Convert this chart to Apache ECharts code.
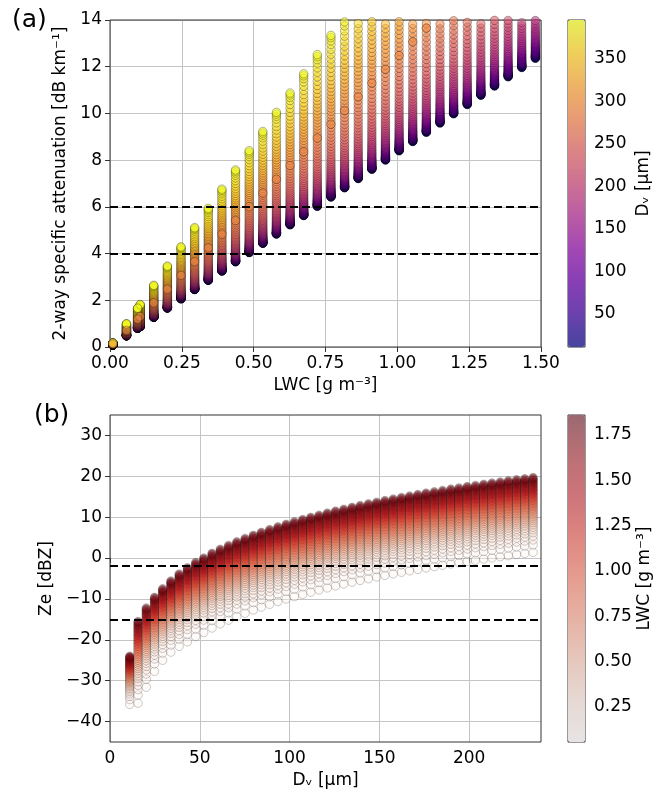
<!DOCTYPE html>
<html><head><meta charset="utf-8">
<script src="https://cdn.jsdelivr.net/npm/echarts@6/dist/echarts.min.js"></script>
<style>html,body{margin:0;padding:0;background:#fff}#main{width:657px;height:790px}</style>
</head><body><div id="main"></div>
<script>
// ---------------- data ----------------
// LWC grid [g m-3] (columns of panel a, colour levels of panel b)
const lwcLevels = [0.0100, 0.0574, 0.1049, 0.1523, 0.1997, 0.2472, 0.2946, 0.3421, 0.3895, 0.4369,
  0.4844, 0.5318, 0.5792, 0.6267, 0.6741, 0.7215, 0.7690, 0.8164, 0.8638, 0.9113,
  0.9587, 1.0062, 1.0536, 1.1010, 1.1485, 1.1959, 1.2433, 1.2908, 1.3382, 1.3856,
  1.4331, 1.4805, 1.5279, 1.5754, 1.6228, 1.6703, 1.7177, 1.7651, 1.8126, 1.8600];
// additional column seen next to 0.105 in panel (a)
const lwcExtraA = [0.096];
// lowest LWC shown in panel (b) (colour-bar minimum)
const lwcMinB = 0.0574;
// Dv grid [um]
const dvLevels = [11.0, 15.6, 20.2, 24.8, 29.3, 33.9, 38.5, 43.1, 47.7, 52.2,
  56.8, 61.4, 66.0, 70.6, 75.2, 79.8, 84.3, 88.9, 93.5, 98.1,
  102.7, 107.3, 111.8, 116.4, 121.0, 125.6, 130.2, 134.8, 139.3, 143.9,
  148.5, 153.1, 157.7, 162.3, 166.8, 171.4, 176.0, 180.6, 185.2, 189.8,
  194.3, 198.9, 203.5, 208.1, 212.7, 217.3, 221.8, 226.4, 231.0, 235.6,
  240.2, 244.8, 249.3, 253.9, 258.5, 263.1, 267.7, 272.3, 276.8, 281.4,
  286.0, 290.6, 295.2, 299.8, 304.3, 308.9, 313.5, 318.1, 322.7, 327.3,
  331.8, 336.4, 341.0, 345.6, 350.2, 354.8, 359.3, 363.9, 368.5, 373.1,
  377.7, 382.3, 386.8, 391.4, 396.0];
// 2-way specific attenuation per unit LWC [dB km-1 / (g m-3)] for each Dv level
const attenPerLwcByDv = [8.35, 8.35, 8.36, 8.37, 8.38, 8.39, 8.40, 8.40, 8.41, 8.42,
  8.43, 8.44, 8.45, 8.47, 8.48, 8.50, 8.52, 8.54, 8.56, 8.59,
  8.61, 8.64, 8.66, 8.69, 8.72, 8.75, 8.78, 8.82, 8.86, 8.90,
  8.95, 9.00, 9.05, 9.10, 9.16, 9.22, 9.29, 9.36, 9.44, 9.52,
  9.60, 9.69, 9.78, 9.88, 9.98, 10.09, 10.20, 10.32, 10.45, 10.58,
  10.72, 10.87, 11.02, 11.18, 11.34, 11.51, 11.68, 11.86, 12.04, 12.22,
  12.40, 12.58, 12.76, 12.94, 13.12, 13.30, 13.48, 13.66, 13.84, 14.03,
  14.22, 14.42, 14.62, 14.83, 15.05, 15.28, 15.52, 15.77, 16.03, 16.30,
  16.57, 16.84, 17.05, 17.22, 17.35];
// the orange marker drawn on top in each column of panel (a)
const dvMarked = 286.0;
// panel (b): Ze [dBZ] at the top (largest LWC) and bottom (smallest LWC) of each Dv column
const zeTopByDv = [-24.0, -15.5, -12.2, -9.6, -7.5, -5.6, -3.9, -2.4, -1.1, 0.0,
  1.15, 2.17, 3.10, 3.98, 4.81, 5.58, 6.29, 6.99, 7.65, 8.27,
  8.87, 9.44, 9.97, 10.50, 11.00, 11.49, 11.96, 12.41, 12.84, 13.26,
  13.67, 14.07, 14.45, 14.83, 15.19, 15.54, 15.89, 16.22, 16.55, 16.87,
  17.17, 17.48, 17.78, 18.07, 18.35, 18.63, 18.90, 19.17, 19.43, 19.69,
  19.94, 20.18];
const zeBottomByDv = [-35.8, -35.5, -31.6, -27.7, -25.0, -23.0, -21.6, -20.5, -19.2, -18.2,
  -17.1, -16.1, -15.2, -14.3, -13.5, -12.7, -12.0, -11.3, -10.65, -10.0,
  -9.43, -8.86, -8.33, -7.80, -7.30, -6.81, -6.34, -5.89, -5.46, -5.04,
  -4.63, -4.23, -3.85, -3.47, -3.11, -2.76, -2.41, -2.08, -1.75, -1.43,
  -1.13, -0.82, -0.52, -0.23, 0.05, 0.33, 0.60, 0.87, 1.13, 1.39,
  1.64, 1.88];
// dashed threshold lines
const attenThresholds = [4, 6];
const zeThresholds = [-2, -15];
// tick values
const xTicksA = [0, 0.25, 0.5, 0.75, 1.0, 1.25, 1.5];
const yTicksA = [0, 2, 4, 6, 8, 10, 12, 14];
const xTicksB = [0, 50, 100, 150, 200];
const yTicksB = [-40, -30, -20, -10, 0, 10, 20, 30];
const cbTicksA = [50, 100, 150, 200, 250, 300, 350];
const cbTicksB = [0.25, 0.5, 0.75, 1.0, 1.25, 1.5, 1.75];

// ---------------- build series data ----------------
const colsA = lwcLevels.concat(lwcExtraA);
const dataA = [];
dvLevels.forEach((dv, i) => {
  colsA.forEach(l => dataA.push([l, l * attenPerLwcByDv[i], dv]));
});
const iMark = dvLevels.indexOf(dvMarked);
const dotsA = colsA.map(l => [l, l * attenPerLwcByDv[iMark], dvMarked]);

const lwcB = lwcLevels.filter(l => l >= lwcMinB);
const lwcMaxB = Math.max.apply(null, lwcB);
const dataB = [];
zeTopByDv.forEach((top, i) => {
  const bot = zeBottomByDv[i];
  lwcB.forEach(l => {
    const fLog = Math.log(lwcMaxB / l) / Math.log(lwcMaxB / lwcMinB);
    const fLin = (lwcMaxB - l) / (lwcMaxB - lwcMinB);
    const f = 0.5 * (fLog + fLin);
    dataB.push([dvLevels[i], top - f * (top - bot), l]);
  });
});

// ---------------- styling ----------------
const FONT = 'DejaVu Sans';
const plasma = [[13,8,135],[65,4,157],[106,0,168],[143,13,164],[177,42,144],[204,71,120],
  [225,100,98],[242,132,75],[252,166,54],[252,206,37],[240,249,33]].map(c => 'rgba(' + c.join(',') + ',0.7)');
const reds = [[255,245,240],[254,224,210],[252,187,161],[252,146,114],[251,106,74],[239,59,44],
  [203,24,29],[165,15,21],[103,0,13]].map(c => 'rgba(' + c.join(',') + ',0.5)');
const minus = v => String(v).replace('-', '\u2212');

function valAxis(o) {
  const base = {
    type: 'value',
    axisLine: {show: false},
    axisTick: {show: true, length: 5, lineStyle: {color: '#333', width: 1}},
    axisLabel: {fontFamily: FONT, fontSize: 17, color: '#000', margin: 8},
    splitLine: {show: true, lineStyle: {color: '#c4c4c4', width: 1}},
    nameLocation: 'middle',
    nameTextStyle: {fontFamily: FONT, fontSize: 17, color: '#000'}
  };
  const r = Object.assign({}, base, o);
  r.axisTick = Object.assign({}, base.axisTick, o.axisTick || {});
  r.axisLabel = Object.assign({}, base.axisLabel, o.axisLabel || {});
  r.splitLine = Object.assign({}, base.splitLine, o.splitLine || {});
  return r;
}
const dash = {color: '#000', width: 2, type: [8, 4]};
const frame = (x, y, w, h) => ({type: 'rect', silent: true, z: 100,
  shape: {x: x, y: y, width: w, height: h}, style: {fill: 'none', stroke: '#333', lineWidth: 1}});

const option = {
  animation: false,
  backgroundColor: '#fff',
  title: [
    {text: '(a)', left: 12, top: 8, padding: 0, textStyle: {fontFamily: FONT, fontSize: 25, fontWeight: 'normal', color: '#000'}},
    {text: '(b)', left: 34, top: 403, padding: 0, textStyle: {fontFamily: FONT, fontSize: 25, fontWeight: 'normal', color: '#000'}}
  ],
  grid: [
    {left: 110, top: 20, width: 431, height: 327},
    {left: 110, top: 415, width: 431, height: 327},
    {left: 568, top: 20, width: 17, height: 327},
    {left: 568, top: 415, width: 17, height: 327}
  ],
  xAxis: [
    valAxis({gridIndex: 0, min: 0, max: 1.5, interval: 0.25, name: 'LWC [g m\u207B\u00B3]', nameGap: 30,
      axisLabel: {formatter: v => v.toFixed(2), customValues: xTicksA}, axisTick: {customValues: xTicksA}}),
    valAxis({gridIndex: 1, min: 0, max: 240, interval: 50, name: 'D\u1D65 [\u00B5m]', nameGap: 30,
      axisLabel: {customValues: xTicksB}, axisTick: {customValues: xTicksB}}),
    {gridIndex: 2, type: 'value', show: false, min: 0, max: 1},
    {gridIndex: 3, type: 'value', show: false, min: 0, max: 1}
  ],
  yAxis: [
    valAxis({gridIndex: 0, min: 0, max: 14, interval: 2, name: '2-way specific attenuation [dB km\u207B\u00B9]', nameGap: 38,
      axisLabel: {customValues: yTicksA}, axisTick: {customValues: yTicksA}}),
    valAxis({gridIndex: 1, min: -45, max: 35, splitNumber: 8, name: 'Ze [dBZ]', nameGap: 52,
      axisLabel: {formatter: minus, customValues: yTicksB}, axisTick: {customValues: yTicksB}}),
    valAxis({gridIndex: 2, position: 'right', min: 11, max: 396, splitNumber: 8, name: 'D\u1D65 [\u00B5m]', nameGap: 50,
      splitLine: {show: false}, axisTick: {length: 4, customValues: cbTicksA},
      axisLabel: {margin: 9, customValues: cbTicksA}}),
    valAxis({gridIndex: 3, position: 'right', min: lwcMinB, max: lwcMaxB, name: 'LWC [g m\u207B\u00B3]', nameGap: 50,
      splitLine: {show: false}, axisTick: {length: 4, customValues: cbTicksB},
      axisLabel: {margin: 9, customValues: cbTicksB, formatter: v => v.toFixed(2)}})
  ],
  visualMap: [
    {type: 'continuous', seriesIndex: [0, 1], dimension: 2, min: 11, max: 396, calculable: false,
      inRange: {color: plasma}, show: true, left: 568, top: 20, itemWidth: 17, itemHeight: 327, padding: 0,
      text: null, hoverLink: false},
    {type: 'continuous', seriesIndex: [3], dimension: 2, min: lwcMinB, max: lwcMaxB, calculable: false,
      inRange: {color: reds}, show: true, left: 568, top: 415, itemWidth: 17, itemHeight: 327, padding: 0,
      text: null, hoverLink: false}
  ],
  series: [
    {type: 'scatter', xAxisIndex: 0, yAxisIndex: 0, data: dataA, symbol: 'circle', symbolSize: 8.5,
      progressive: 0, large: false, z: 2, silent: true,
      itemStyle: {borderColor: 'rgba(0,0,0,0.7)', borderWidth: 0.5}},
    {type: 'scatter', xAxisIndex: 0, yAxisIndex: 0, data: dotsA, symbol: 'circle', symbolSize: 8.5,
      progressive: 0, z: 3, silent: true,
      itemStyle: {borderColor: 'rgba(0,0,0,0.7)', borderWidth: 0.5}},
    {type: 'scatter', xAxisIndex: 0, yAxisIndex: 0, data: [], z: 5, silent: true,
      markLine: {silent: true, symbol: 'none', label: {show: false}, lineStyle: dash,
        data: attenThresholds.map(v => ({yAxis: v}))}},
    {type: 'scatter', xAxisIndex: 1, yAxisIndex: 1, data: dataB, symbol: 'circle', symbolSize: 8.5,
      progressive: 0, large: false, z: 2, silent: true,
      itemStyle: {borderColor: 'rgba(0,0,0,0.5)', borderWidth: 0.5}},
    {type: 'scatter', xAxisIndex: 1, yAxisIndex: 1, data: [], z: 5, silent: true,
      markLine: {silent: true, symbol: 'none', label: {show: false}, lineStyle: dash,
        data: zeThresholds.map(v => ({yAxis: v}))}}
  ],
  graphic: [
    {type: 'rect', silent: true, z: 50, shape: {x: 110, y: 0, width: 432, height: 19.5}, style: {fill: '#fff'}},
    frame(110, 20, 431, 327), frame(110, 415, 431, 327),
    frame(568, 20, 17, 327), frame(568, 415, 17, 327)
  ]
};
const chart = echarts.init(document.getElementById('main'));
chart.setOption(option);
</script>
</body></html>
